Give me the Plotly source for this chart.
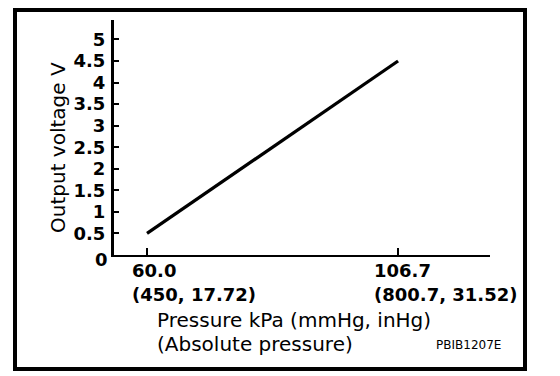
import plotly.graph_objects as go

# ---- data ----
pressure_kpa = [60.0, 106.7]
output_voltage = [0.5, 4.5]

x_tick_vals = [60.0, 106.7]
x_tick_kpa = ["60.0", "106.7"]
x_tick_alt = ["(450, 17.72)", "(800.7, 31.52)"]
x_label_shift = [-17, -26]

y_tick_vals = [0.5, 1, 1.5, 2, 2.5, 3, 3.5, 4, 4.5, 5]
y_tick_text = ["0.5", "1", "1.5", "2", "2.5", "3", "3.5", "4", "4.5", "5"]

x_title = "Pressure kPa (mmHg, inHg)"
x_subtitle = "(Absolute pressure)"
y_title = "Output voltage V"
figure_code = "PBIB1207E"

FONT = "DejaVu Sans"
L, R, T, B = 114, 70, 20, 121
W, H = 560, 376
PW, PH = W - L - R, H - T - B


def px_x(p):
    return (p - L) / PW


def px_y(p):
    return (H - B - p) / PH


fig = go.Figure()
fig.add_trace(go.Scatter(
    x=pressure_kpa, y=output_voltage, mode="lines",
    line=dict(color="black", width=3.2), hoverinfo="skip", showlegend=False,
))

fig.update_layout(
    width=W, height=H,
    margin=dict(l=L, r=R, t=T, b=B, pad=0),
    paper_bgcolor="white", plot_bgcolor="white",
    showlegend=False,
    xaxis=dict(
        range=[53.86, 123.8], showgrid=False, zeroline=False,
        showline=True, linecolor="black", linewidth=1.5,
        tickvals=x_tick_vals, ticks="inside", ticklen=7, tickwidth=1.5,
        tickcolor="black", showticklabels=False, fixedrange=True,
    ),
    yaxis=dict(
        range=[0, 5.45], showgrid=False, zeroline=False,
        showline=True, linecolor="black", linewidth=3,
        tickvals=y_tick_vals, ticktext=y_tick_text,
        ticks="inside", ticklen=5, tickwidth=2, tickcolor="black",
        tickfont=dict(family=FONT, size=18, color="black", weight="bold"),
        ticklabelstandoff=2, fixedrange=True,
    ),
)

# outer frame
fig.add_shape(type="rect", xref="paper", yref="paper",
              x0=px_x(15), x1=px_x(525), y0=px_y(369), y1=px_y(10),
              line=dict(color="black", width=4), fillcolor="rgba(0,0,0,0)")

# "0" label on y axis (sits slightly below the corner)
fig.add_annotation(x=0, xref="paper", y=0, yref="y", text="0",
                   showarrow=False, xanchor="right", yanchor="middle",
                   xshift=-4, yshift=-4,
                   font=dict(family=FONT, size=18, color="black", weight="bold"))

# x tick labels
for xv, k, a, sh in zip(x_tick_vals, x_tick_kpa, x_tick_alt, x_label_shift):
    fig.add_annotation(x=xv, xref="x", y=px_y(270), yref="paper", text=k,
                       showarrow=False, xanchor="left", yanchor="middle",
                       xshift=sh,
                       font=dict(family=FONT, size=18, color="black", weight="bold"))
    fig.add_annotation(x=xv, xref="x", y=px_y(294), yref="paper", text=a,
                       showarrow=False, xanchor="left", yanchor="middle",
                       xshift=sh,
                       font=dict(family=FONT, size=18, color="black", weight="bold"))

# axis titles
fig.add_annotation(x=px_x(155), xref="paper", y=px_y(320), yref="paper",
                   text=x_title, showarrow=False, xanchor="left", yanchor="middle",
                   font=dict(family=FONT, size=20, color="black"))
fig.add_annotation(x=px_x(155), xref="paper", y=px_y(344), yref="paper",
                   text=x_subtitle, showarrow=False, xanchor="left", yanchor="middle",
                   font=dict(family=FONT, size=20, color="black"))
fig.add_annotation(x=px_x(58), xref="paper", y=px_y(148), yref="paper",
                   text=y_title, showarrow=False, textangle=-90,
                   xanchor="center", yanchor="middle",
                   font=dict(family=FONT, size=20, color="black"))
fig.add_annotation(x=px_x(503), xref="paper", y=px_y(345), yref="paper",
                   text=figure_code, showarrow=False, xanchor="right", yanchor="middle",
                   font=dict(family=FONT, size=12, color="black"))

fig.write_html(
    "out.html",
    config=dict(displayModeBar=False),
    post_script="document.body.style.margin='0';document.body.style.padding='0';",
)
